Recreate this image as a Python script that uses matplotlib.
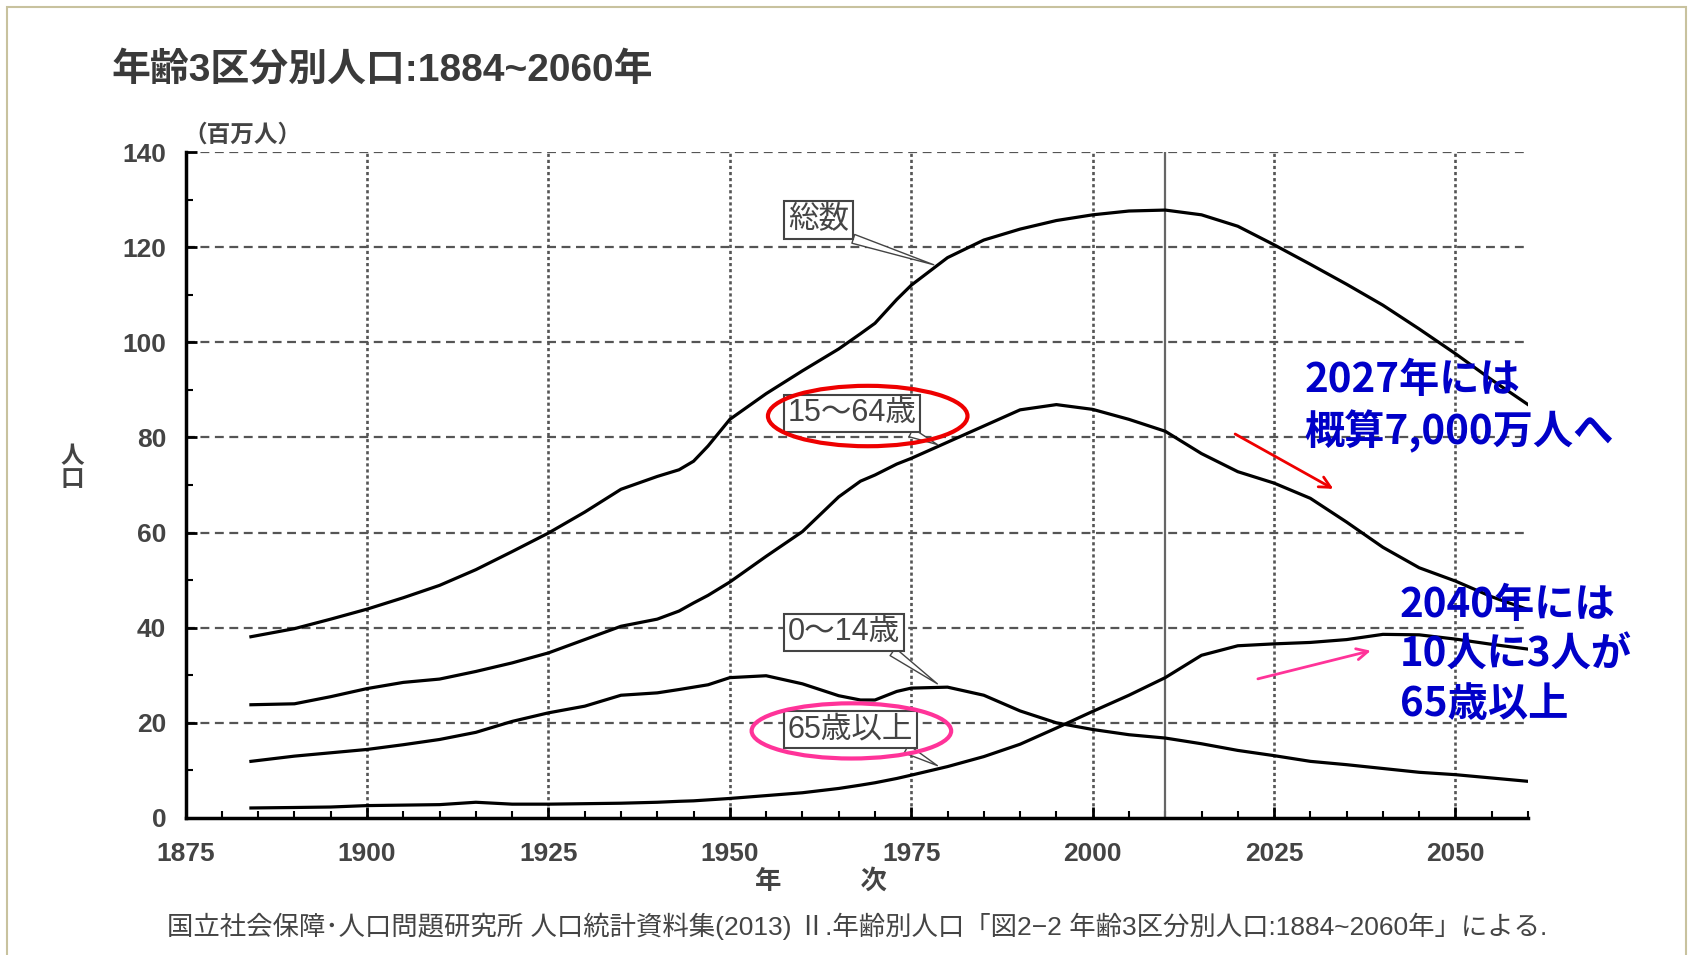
import numpy as np
import matplotlib.pyplot as plt
from matplotlib.patches import Ellipse, Rectangle
from matplotlib.ticker import MultipleLocator

plt.rcParams['font.family'] = ['Liberation Sans', 'Noto Sans CJK JP', 'DejaVu Sans']

years = [1884, 1890, 1895, 1900, 1905, 1910, 1915, 1920, 1925, 1930, 1935, 1940,
         1943, 1945, 1947, 1950, 1955, 1960, 1965, 1968, 1970, 1973, 1975, 1980,
         1985, 1990, 1995, 2000, 2005, 2010, 2015, 2020, 2025, 2030, 2035, 2040,
         2045, 2050, 2055, 2060]
total = [38.1, 39.8, 41.8, 43.9, 46.3, 48.9, 52.2, 56.0, 59.9, 64.3, 69.1, 71.8,
         73.2, 75.0, 78.2, 83.8, 89.2, 94.0, 98.6, 101.8, 104.0, 109.0, 112.0, 117.8,
         121.5, 123.8, 125.6, 126.8, 127.6, 127.8, 126.8, 124.4, 120.5, 116.4, 112.2, 107.8,
         102.8, 97.6, 92.1, 86.9]
age15_64 = [23.8, 24.0, 25.5, 27.2, 28.5, 29.2, 30.8, 32.6, 34.7, 37.5, 40.3, 41.8,
            43.5, 45.2, 46.8, 49.6, 55.0, 60.2, 67.5, 70.8, 72.1, 74.4, 75.6, 79.0,
            82.4, 85.8, 86.9, 85.9, 83.8, 81.3, 76.6, 72.8, 70.4, 67.2, 62.2, 56.9,
            52.6, 49.8, 46.5, 43.8]
age0_14 = [11.9, 13.0, 13.7, 14.4, 15.4, 16.5, 18.0, 20.3, 22.1, 23.5, 25.8, 26.3,
           27.0, 27.5, 28.0, 29.5, 29.9, 28.2, 25.7, 24.8, 24.8, 26.6, 27.3, 27.5,
           25.8, 22.5, 20.0, 18.6, 17.5, 16.8, 15.6, 14.2, 13.1, 11.9, 11.2, 10.4,
           9.6, 9.1, 8.4, 7.7]
age65 = [2.1, 2.2, 2.3, 2.6, 2.7, 2.8, 3.3, 2.9, 2.9, 3.0, 3.1, 3.3,
         3.5, 3.6, 3.8, 4.1, 4.7, 5.3, 6.2, 6.9, 7.4, 8.3, 9.0, 10.8,
         12.9, 15.5, 18.9, 22.4, 25.8, 29.5, 34.2, 36.2, 36.6, 36.9, 37.5, 38.6,
         38.5, 37.6, 36.5, 35.5]

fig = plt.figure(figsize=(16.92, 9.55), dpi=100)
fig.patches.append(Rectangle((0.0041, -0.01), 0.9923, 1.0027, transform=fig.transFigure,
                             fill=False, ec='#c8c29e', lw=1.5))
ax = fig.add_axes([0.1097, 0.1435, 0.7934, 0.6973])

for s in [total, age15_64, age0_14, age65]:
    ax.plot(years, s, color='black', lw=2.3, zorder=3)

ax.set_xlim(1875, 2060)
ax.set_ylim(0, 140)
for yv in range(20, 141, 20):
    ax.plot([1875, 2060], [yv, yv], color='#555555', lw=1.6, ls=(0, (4, 2.5)), zorder=1)
for xv in range(1900, 2051, 25):
    ax.plot([xv, xv], [0, 140], color='#555555', lw=1.9, ls=(0, (1.2, 1.1)), zorder=1)
ax.plot([2010, 2010], [0, 140], color='#666666', lw=1.6, zorder=2)

ax.spines['top'].set_visible(False)
ax.spines['right'].set_visible(False)
ax.spines['left'].set_linewidth(2.5)
ax.spines['bottom'].set_linewidth(2.5)
ax.xaxis.set_major_locator(MultipleLocator(25))
ax.xaxis.set_minor_locator(MultipleLocator(5))
ax.yaxis.set_major_locator(MultipleLocator(20))
ax.yaxis.set_minor_locator(MultipleLocator(10))
ax.tick_params(which='major', direction='in', length=8, width=2, labelsize=19,
               labelcolor='#444444')
ax.tick_params(which='minor', direction='in', length=5, width=1.5)
ax.tick_params(axis='x', pad=17)
ax.tick_params(axis='y', pad=14)
for lab in ax.get_xticklabels() + ax.get_yticklabels():
    lab.set_fontweight('bold')

fig.text(0.066, 0.927, '年齢3区分別人口:1884~2060年', fontsize=28, color='#3a3a3a',
         fontweight='bold', ha='left', va='center')
fig.text(0.1435, 0.8588, '（百万人）', fontsize=17, color='#444444', fontweight='bold',
         ha='center', va='center')
fig.text(0.0425, 0.51, '人\n口', fontsize=17, color='#444444', fontweight='bold',
         ha='center', va='center', linespacing=1.0)
fig.text(0.4853, 0.077, '年　　　次', fontsize=19, color='#444444', fontweight='bold',
         ha='center', va='center')
fig.text(0.0989, 0.0305,
         '国立社会保障･人口問題研究所 人口統計資料集(2013) Ⅱ.年齢別人口「図2−2 年齢3区分別人口:1884~2060年」による.',
         fontsize=19, color='#444444', ha='left', va='center')

box = dict(boxstyle='square,pad=0.12', fc='white', ec='#444444', lw=1.5)
labels = ['総数', '15～64歳', '0～14歳', '65歳以上']
label_pos = [(1958.0, 125.7), (1958.0, 85.1), (1958.0, 39.0), (1958.0, 18.6)]
label_tip = [(1978.1, 116.3), (1978.6, 78.5), (1978.6, 28.2), (1978.6, 11.0)]
for t, p, q in zip(labels, label_pos, label_tip):
    ax.annotate(t, xy=q, xytext=p, ha='left', va='center', fontsize=22, color='#444444',
                bbox=box, zorder=5,
                arrowprops=dict(arrowstyle='wedge,tail_width=0.3', fc='white', ec='#444444',
                                lw=1.0, relpos=(0.88, 0.0), shrinkA=0, shrinkB=0))

ax.add_patch(Ellipse((1969.0, 84.5), 27.5, 12.7, fill=False, ec='#ee0000', lw=3, zorder=6,
                     clip_on=False))
ax.add_patch(Ellipse((1966.75, 18.3), 27.5, 11.6, fill=False, ec='#ff3399', lw=3, zorder=6,
                     clip_on=False))

ax.annotate('', xy=(2033.5, 68.9), xytext=(2019.3, 81.0),
            arrowprops=dict(arrowstyle='->,head_length=0.8,head_width=0.4', color='#ee0000', lw=2),
            annotation_clip=False)
ax.annotate('', xy=(2038.7, 35.3), xytext=(2022.4, 29.1),
            arrowprops=dict(arrowstyle='->,head_length=0.8,head_width=0.4', color='#ff3399', lw=2),
            annotation_clip=False)

blue = '#0000c8'
ax.text(2029.2, 96.3, '2027年には\n概算7,000万人へ', fontsize=29, color=blue, fontweight='bold',
        family=['Noto Sans CJK JP'], ha='left', va='top', linespacing=1.25, zorder=7)
ax.text(2042.3, 49.0, '2040年には\n10人に3人が\n65歳以上', fontsize=29, color=blue,
        fontweight='bold', family=['Noto Sans CJK JP'], ha='left', va='top', linespacing=1.27,
        zorder=7)

fig.savefig('out.png', dpi=100)
